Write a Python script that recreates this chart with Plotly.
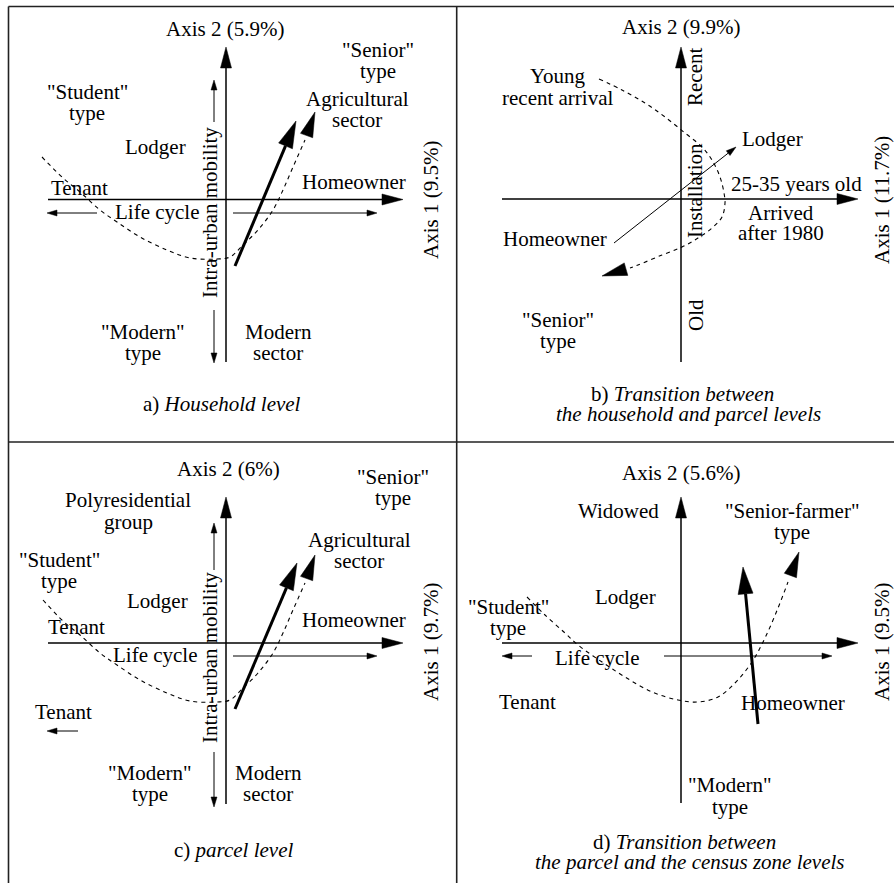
import numpy as np
import plotly.graph_objects as go

FONT = "Liberation Serif, Times New Roman, Times, serif"
FS = 21

# ---------------- data (diagram content) ----------------
# Text labels: (text, x, y, angle)
LABELS_A = [
    ("Axis 2 (5.9%)", 225, 29, 0), ('"Senior"', 378, 50, 0), ("type", 378, 71, 0),
    ('"Student"', 87, 92, 0), ("type", 87, 113, 0),
    ("Agricultural", 357, 99, 0), ("sector", 357, 120, 0),
    ("Lodger", 155, 147, 0), ("Tenant", 79, 188, 0), ("Homeowner", 354, 182, 0),
    ("Life cycle", 157, 212, 0), ("Intra-urban mobility", 210, 213, -90),
    ("Axis 1 (9.5%)", 431, 200, -90),
    ('"Modern"', 143, 332, 0), ("type", 143, 353, 0),
    ("Modern", 278, 332, 0), ("sector", 278, 353, 0),
    ("a) <i>Household level</i>", 222, 404, 0),
]
LABELS_B = [
    ("Axis 2 (9.9%)", 681, 27, 0), ("Young", 558, 76, 0), ("recent arrival", 558, 98, 0),
    ("Recent", 695, 77, -90), ("Lodger", 772, 139, 0), ("Installation", 695, 191, -90),
    ("25-35 years old", 796, 184, 0), ("Arrived", 781, 213, 0), ("after 1980", 781, 233, 0),
    ("Homeowner", 555, 239, 0), ('"Senior"', 558, 320, 0), ("type", 558, 341, 0),
    ("Old", 696, 315, -90), ("Axis 1 (11.7%)", 882, 200, -90),
    ("b) <i>Transition between</i>", 682, 394, 0),
    ("<i>the household and parcel levels</i>", 688, 414, 0),
]
LABELS_C = [
    ("Axis 2 (6%)", 228, 469, 0), ('"Senior"', 393, 477, 0), ("type", 393, 498, 0),
    ("Polyresidential", 128, 500, 0), ("group", 128, 522, 0),
    ("Agricultural", 359, 540, 0), ("sector", 359, 561, 0),
    ('"Student"', 59, 560, 0), ("type", 59, 581, 0),
    ("Lodger", 157, 601, 0), ("Tenant", 76, 627, 0), ("Homeowner", 354, 620, 0),
    ("Life cycle", 155, 655, 0), ("Intra-urban mobility", 210, 658, -90),
    ("Axis 1 (9.7%)", 431, 642, -90), ("Tenant", 63, 712, 0),
    ('"Modern"', 150, 773, 0), ("type", 150, 794, 0),
    ("Modern", 268, 773, 0), ("sector", 268, 794, 0),
    ("c) <i>parcel level</i>", 233, 850, 0),
]
LABELS_D = [
    ("Axis 2 (5.6%)", 681, 473, 0), ("Widowed", 618, 511, 0),
    ('"Senior-farmer"', 792, 511, 0), ("type", 792, 532, 0),
    ("Lodger", 625, 597, 0), ('"Student"', 508, 607, 0), ("type", 508, 628, 0),
    ("Life cycle", 597, 658, 0), ("Axis 1 (9.5%)", 882, 642, -90),
    ("Tenant", 527, 702, 0), ("Homeowner", 793, 703, 0),
    ('"Modern"', 730, 785, 0), ("type", 730, 807, 0),
    ("d) <i>Transition between</i>", 684, 842, 0),
    ("<i>the parcel and the census zone levels</i>", 689, 862, 0),
]

# Arrows: (x_start, y_start, x_tip, y_tip, kind)
ARROWS = [
    # panel a
    (226, 362, 226, 47, "axis"), (48, 199.5, 403, 199.5, "axis"),
    (97, 213, 47, 213, "thin"), (233, 213, 377, 213, "thin"),
    (214, 122, 214, 80, "thin"), (214, 310, 214, 363, "thin"),
    (235, 266, 296, 121, "thick"),
    # panel b
    (681, 362, 681, 47, "axis"), (502, 199, 858, 199, "axis"),
    (614, 243, 736, 147, "thin"),
    # panel c
    (226, 804, 226, 497, "axis"), (48, 643, 403, 643, "axis"),
    (233, 656, 377, 656, "thin"), (78, 731, 47, 731, "thin"),
    (214, 570, 214, 523, "thin"), (214, 752, 214, 807, "thin"),
    (235, 709, 297, 563, "thick"),
    # panel d
    (681, 803, 681, 497, "axis"), (502, 643, 858, 643, "axis"),
    (532, 656, 502, 656, "thin"), (664, 656, 832, 656, "thin"),
    (758, 724, 743, 567, "thick"),
]

# Dashed trajectories (x list, y list); last point is the arrow tip
CURVE_A_X = [42, 63, 80, 100, 117, 140, 167, 190, 217, 230, 243, 258, 273, 283, 293, 305, 315]
CURVE_A_Y = [157, 178, 192, 210, 222, 237, 250, 258, 259, 257, 245, 230, 210, 190, 167, 140, 112]
CURVE_B_X = [599, 622, 645, 665, 685, 702, 712, 720, 724, 725, 722, 712, 698, 682, 662, 638, 630, 602]
CURVE_B_Y = [79, 90, 103, 117, 133, 147, 160, 177, 193, 203, 217, 228, 238, 247, 255, 265, 268, 276]
CURVE_C_X = [43, 63, 80, 100, 117, 140, 167, 190, 217, 230, 243, 258, 273, 283, 293, 305, 315]
CURVE_C_Y = [600, 621, 635, 653, 665, 680, 693, 701, 702, 700, 688, 673, 653, 633, 610, 583, 555]
CURVE_D_X = [527, 545, 565, 578, 602, 625, 652, 678, 698, 718, 735, 752, 765, 778, 788, 799]
CURVE_D_Y = [597, 615, 633, 645, 662, 677, 692, 700, 702, 697, 683, 662, 638, 608, 582, 552]

# Frame lines: (x0, y0, x1, y1)
FRAME = [(8.5, 6.5, 894, 6.5), (8.5, 6.5, 8.5, 883),
         (456.7, 6.5, 456.7, 883), (8.5, 442, 894, 442)]

# ---------------- drawing ----------------
STYLE = {  # line width, head length, head width
    "axis": (1.5, 21, 11),
    "thin": (1.0, 10, 6),
    "thick": (3.0, 27, 15),
    "dash": (1.1, 25, 13),
}

fig = go.Figure()


def add_head(x_from, y_from, x_tip, y_tip, hl, hw):
    d = np.array([x_tip - x_from, y_tip - y_from], dtype=float)
    d /= np.linalg.norm(d)
    n = np.array([-d[1], d[0]])
    base = np.array([x_tip, y_tip]) - d * hl
    p1 = base + n * hw / 2
    p2 = base - n * hw / 2
    fig.add_trace(go.Scatter(x=[x_tip, p1[0], p2[0], x_tip], y=[y_tip, p1[1], p2[1], y_tip],
                             mode="lines", fill="toself", fillcolor="black",
                             line=dict(color="black", width=0.5), hoverinfo="skip"))
    return base


for x0, y0, x1, y1, kind in ARROWS:
    lw, hl, hw = STYLE[kind]
    base = add_head(x0, y0, x1, y1, hl, hw)
    fig.add_trace(go.Scatter(x=[x0, base[0]], y=[y0, base[1]], mode="lines",
                             line=dict(color="black", width=lw), hoverinfo="skip"))

for cx, cy in [(CURVE_A_X, CURVE_A_Y), (CURVE_B_X, CURVE_B_Y),
               (CURVE_C_X, CURVE_C_Y), (CURVE_D_X, CURVE_D_Y)]:
    lw, hl, hw = STYLE["dash"]
    base = add_head(cx[-2], cy[-2], cx[-1], cy[-1], hl, hw)
    fig.add_trace(go.Scatter(x=list(cx[:-1]), y=list(cy[:-1]), mode="lines",
                             line=dict(color="black", width=lw, dash="4px,4px", shape="spline",
                                       smoothing=1.0),
                             hoverinfo="skip"))

for x0, y0, x1, y1 in FRAME:
    fig.add_trace(go.Scatter(x=[x0, x1], y=[y0, y1], mode="lines",
                             line=dict(color="#222", width=1.6), hoverinfo="skip"))

annotations = []
for labels in (LABELS_A, LABELS_B, LABELS_C, LABELS_D):
    for text, x, y, ang in labels:
        annotations.append(dict(text=text, x=x, y=y, xref="x", yref="y", showarrow=False,
                                textangle=ang, xanchor="center", yanchor="middle",
                                font=dict(family=FONT, size=FS, color="black")))

fig.update_layout(
    width=894, height=883, margin=dict(l=0, r=0, t=0, b=0),
    paper_bgcolor="white", plot_bgcolor="white", showlegend=False,
    xaxis=dict(range=[0, 894], visible=False, fixedrange=True),
    yaxis=dict(range=[883, 0], visible=False, fixedrange=True),
    annotations=annotations,
)

fig.write_html("out.html", config={"displayModeBar": False},
               post_script="document.body.style.margin='0';document.body.style.overflow='hidden';")
